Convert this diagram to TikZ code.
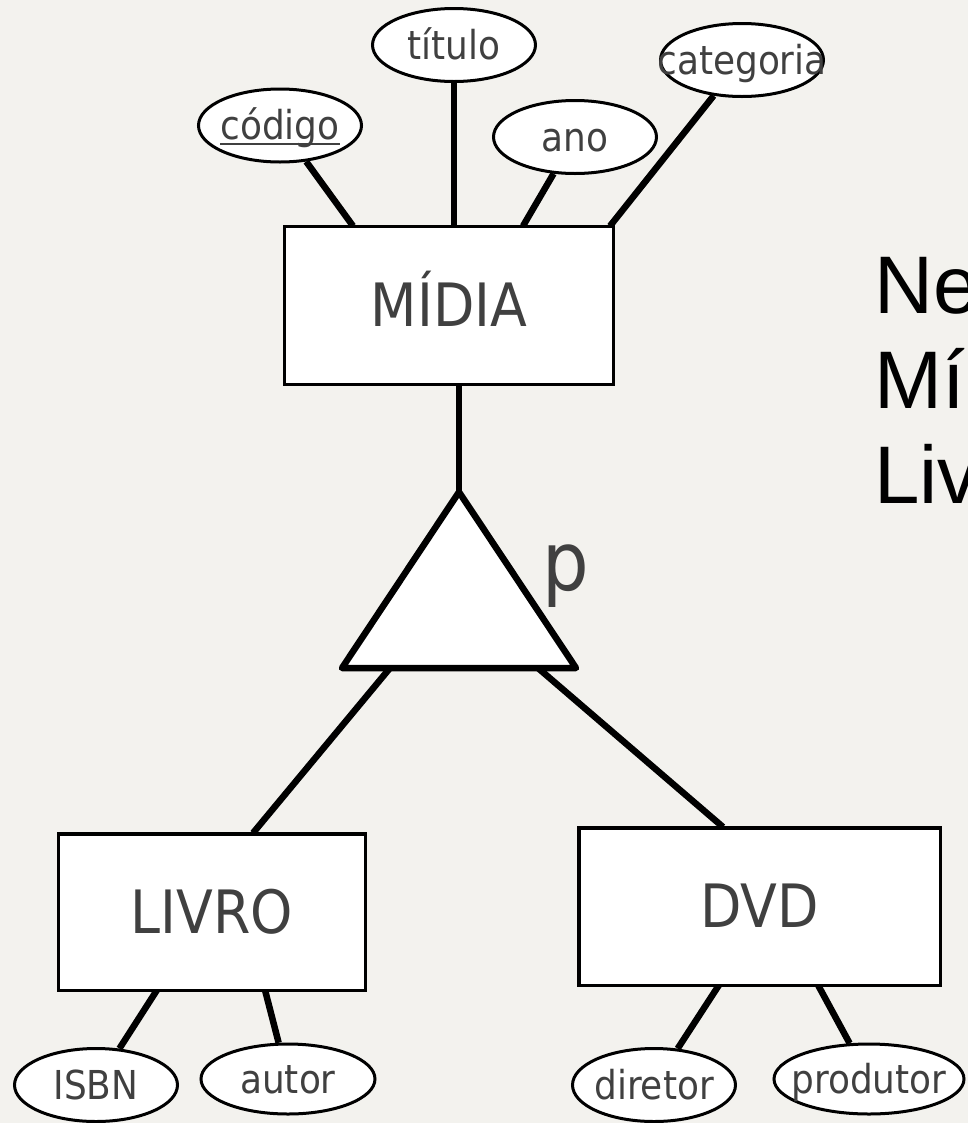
\documentclass[tikz,border=0pt]{standalone}
\usepackage{fontspec}
\setmainfont{DejaVu Sans Condensed}
\newfontfamily\arialf{Liberation Sans}
\usetikzlibrary{shapes.geometric}
\pgfdeclarelayer{bg}
\pgfsetlayers{bg,main}
\definecolor{bgc}{RGB}{243,242,238}
\definecolor{txt}{RGB}{64,64,64}
\newcommand\keyattr[1]{\setbox0\hbox{#1}\rlap{\rule[-0.13em]{\wd0}{0.05em}}\box0}
\begin{document}
\begin{tikzpicture}[x=1bp,y=-1bp,
  ent/.style={draw=black, line width=3.5bp, fill=white, rectangle, inner sep=0pt,
    text=txt, font=\fontsize{60}{60}\selectfont, text height=48bp, text depth=6bp},
  attr/.style={draw=black, line width=3bp, fill=white, ellipse, inner sep=0pt,
    minimum width=163bp, minimum height=73bp,
    text=txt, font=\fontsize{40}{40}\selectfont, text height=32bp, text depth=4bp},
  conn/.style={line width=6.5bp},
  side/.style={anchor=base west, inner sep=0pt, text=black, font=\arialf\fontsize{82}{82}\selectfont}]
\useasboundingbox (0,0) rectangle (968,1123);
\begin{pgfonlayer}{bg}
\fill[bgc] (0,0) rectangle (968,1123);
\end{pgfonlayer}

% entities
\node[ent, minimum width=329bp, minimum height=158bp] (midia) at (449,305.5) {MÍDIA};
\node[ent, minimum width=306.5bp, minimum height=156.5bp] (livro) at (212,912) {LIVRO};
\node[ent, minimum width=361.5bp, minimum height=157.5bp] (dvd) at (759.5,906.5) {DVD};

% attributes
\node[attr] (codigo) at (280,125.5) {\makebox[0pt]{\keyattr{código}}};
\node[attr] (titulo) at (454,45) {\makebox[0pt]{título}};
\node[attr] (ano) at (575,137) {\makebox[0pt]{ano}};
\node[attr] (categoria) at (742,60) {\makebox[0pt]{categoria}};
\node[attr] (isbn) at (96,1085) {\makebox[0pt]{ISBN}};
\node[attr, minimum width=174bp, minimum height=70bp] (autor) at (288,1079) {\makebox[0pt]{autor}};
\node[attr] (diretor) at (654,1085) {\makebox[0pt]{diretor}};
\node[attr, minimum width=190bp, minimum height=70bp] (produtor) at (869,1079) {\makebox[0pt]{produtor}};

% specialization triangle
\coordinate (apex) at (459,492);
\coordinate (bl) at (342,668);
\coordinate (br) at (576,668);
\draw[line width=6.5bp, fill=white, line join=round] (apex) -- (bl) -- (br) -- cycle;
\node[anchor=base west, inner sep=0pt, text=txt, font=\fontsize{82}{82}\selectfont] (plabel) at (542,590) {p};

% side text
\node[side] (ne) at (874,313) {Ne};
\node[side] (mi) at (874,408) {Mí};
\node[side] (liv) at (874,503) {Liv};

% connection points
\coordinate (m1) at (353,226);
\coordinate (m3) at (523,226);
\coordinate (m4) at (610,226);
\coordinate (t1) at (390,668);
\coordinate (t2) at (538,668);
\coordinate (l1) at (253,833);
\coordinate (d1) at (723,827);
\coordinate (l2) at (157,990);
\coordinate (l3) at (265,990);
\coordinate (d2) at (719,985);
\coordinate (d3) at (818,985);

\begin{pgfonlayer}{bg}
\draw[conn] (codigo) -- (m1);
\draw[conn] (titulo) -- (titulo |- midia.north);
\draw[conn] (ano) -- (m3);
\draw[conn] (categoria) -- (m4);
\draw[conn] (midia.south -| apex) -- (apex);
\draw[conn] (t1) -- (l1);
\draw[conn] (t2) -- (d1);
\draw[conn] (l2) -- (isbn);
\draw[conn] (l3) -- (autor);
\draw[conn] (d2) -- (diretor);
\draw[conn] (d3) -- (produtor);
\end{pgfonlayer}
\end{tikzpicture}
\end{document}
